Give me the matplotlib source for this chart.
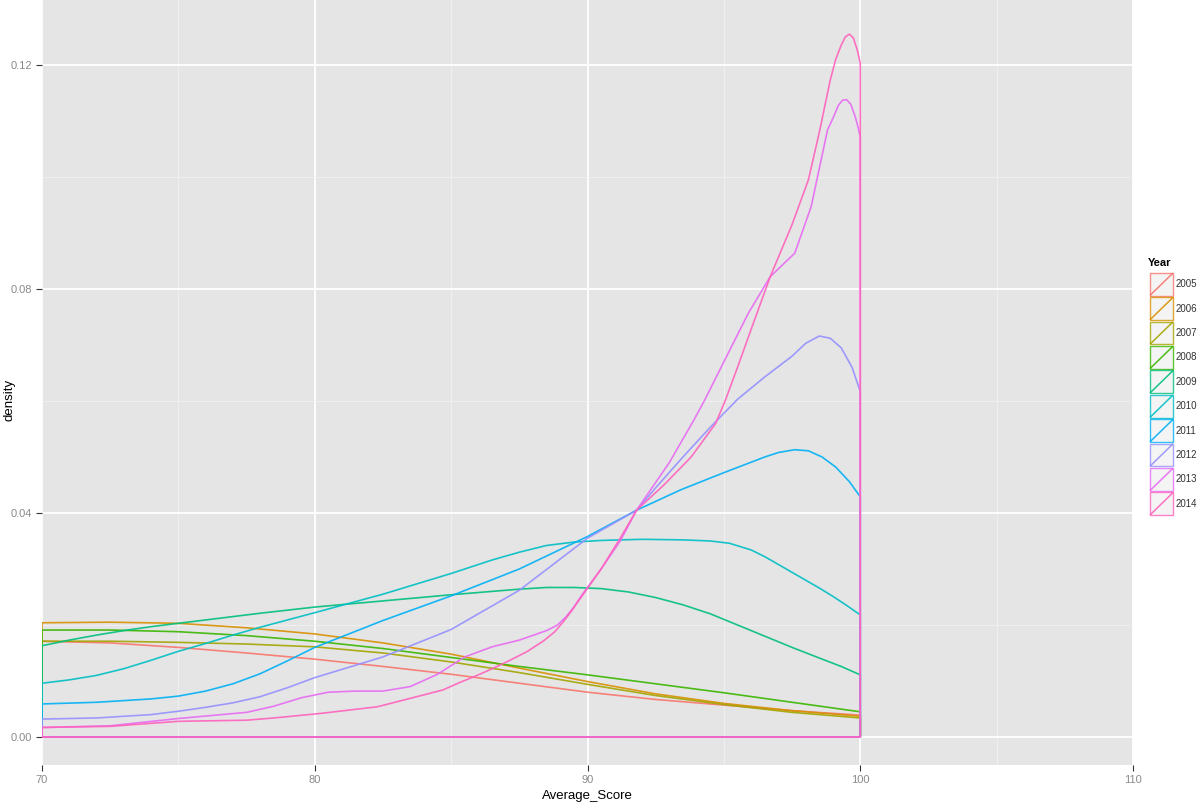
import matplotlib
matplotlib.use("Agg")
import matplotlib.pyplot as plt
from matplotlib.patches import Rectangle

plt.rcParams['font.family'] = ['Liberation Sans', 'DejaVu Sans']

years = ['2005', '2006', '2007', '2008', '2009', '2010', '2011', '2012', '2013', '2014']
colors = ['#F8766D', '#D89000', '#A3A500', '#39B600', '#00BF7D',
          '#00BFC4', '#00B0F6', '#9590FF', '#E76BF3', '#FF62BC']

# densities, one pair of lists per year
x_2005 = [70, 72.5, 75, 77.5, 80, 82.5, 85, 87.5, 90, 92.5, 95, 97.5, 100]
d_2005 = [0.0171, 0.0168, 0.0160, 0.0150, 0.0139, 0.0126, 0.0112, 0.0096, 0.0080, 0.0067, 0.0057, 0.0047, 0.0039]

x_2006 = [70, 72.5, 75, 77.5, 80, 82.5, 85, 87.5, 90, 92.5, 95, 97.5, 100]
d_2006 = [0.0204, 0.0205, 0.0203, 0.0195, 0.0184, 0.0168, 0.0148, 0.0123, 0.0099, 0.0077, 0.0060, 0.0047, 0.0037]

x_2007 = [70, 72.5, 75, 77.5, 80, 82.5, 85, 87.5, 90, 92.5, 95, 97.5, 100]
d_2007 = [0.0171, 0.0171, 0.0169, 0.0166, 0.0161, 0.0150, 0.0134, 0.0115, 0.0094, 0.0074, 0.0058, 0.0044, 0.0034]

x_2008 = [70, 72.5, 75, 77.5, 80, 82.5, 85, 87.5, 90, 92.5, 95, 97.5, 100]
d_2008 = [0.0191, 0.0191, 0.0188, 0.0181, 0.0171, 0.0158, 0.0142, 0.0126, 0.0111, 0.0095, 0.0079, 0.0062, 0.0045]

x_2009 = [70, 71, 72, 73, 74, 75, 76.5, 78, 80, 82.5, 85, 86.5, 87.5, 88.5, 89.5, 90.5, 91.5, 92.5,
          93.5, 94.5, 95.5, 96.5, 97.5, 98.5, 99.3, 100]
d_2009 = [0.0163, 0.0173, 0.0182, 0.0190, 0.0197, 0.0203, 0.0212, 0.0221, 0.0232, 0.0243, 0.0254, 0.0260,
          0.0264, 0.0267, 0.0267, 0.0265, 0.0259, 0.0249, 0.0236, 0.0220, 0.0200, 0.0180, 0.0160, 0.0141, 0.0126, 0.0111]

x_2010 = [70, 71, 72, 73, 74, 75, 76, 77, 78, 79, 80, 82.5, 85, 86.5, 87.5, 88.5, 89.5, 90.5, 92, 93.5,
          94.5, 95.2, 96, 96.5, 97, 97.5, 98, 98.5, 99, 99.5, 100]
d_2010 = [0.0096, 0.0102, 0.0110, 0.0122, 0.0137, 0.0153, 0.0167, 0.0182, 0.0196, 0.0209, 0.0222, 0.0255,
          0.0292, 0.0316, 0.0330, 0.0342, 0.0348, 0.0351, 0.0353, 0.0352, 0.0350, 0.0346, 0.0334, 0.0322,
          0.0308, 0.0294, 0.0280, 0.0266, 0.0251, 0.0235, 0.0218]

x_2011 = [70, 72, 74, 75, 76, 77, 78, 79, 80, 82.5, 85, 87.5, 90, 91.8, 93.4, 95, 96.5, 97, 97.6, 98.1,
          98.6, 99.1, 99.6, 100]
d_2011 = [0.0059, 0.0062, 0.0068, 0.0073, 0.0082, 0.0095, 0.0113, 0.0136, 0.0160, 0.0208, 0.0252, 0.0300,
          0.0358, 0.0405, 0.0441, 0.0472, 0.0500, 0.0508, 0.0513, 0.0511, 0.0500, 0.0482, 0.0456, 0.0429]

x_2012 = [70, 72, 74, 75, 76, 77, 78, 79, 80, 82.5, 85, 87.5, 90, 91.8, 92.5, 93.5, 94.5, 95.5, 96.5,
          97.5, 98, 98.5, 98.9, 99.3, 99.7, 100]
d_2012 = [0.0032, 0.0034, 0.0040, 0.0046, 0.0053, 0.0061, 0.0072, 0.0088, 0.0106, 0.0143, 0.0192, 0.0262,
          0.0355, 0.0405, 0.0445, 0.0500, 0.0553, 0.0603, 0.0643, 0.0680, 0.0703, 0.0716, 0.0712, 0.0695,
          0.0660, 0.0617]

x_2013 = [70, 72.5, 75, 77.5, 78.5, 79.5, 80.5, 81.5, 82.5, 83.5, 84.5, 85.5, 86.5, 87.5, 88.5, 88.9, 89.2,
          89.5, 89.8, 90.5, 91.2, 91.8, 93, 93.9, 94.3, 95, 95.9, 96.7, 97.6, 98.2, 98.8, 99.0, 99.2, 99.35,
          99.5, 99.65, 99.8, 99.9, 100]
d_2013 = [0.0017, 0.0020, 0.0033, 0.0044, 0.0055, 0.0070, 0.0080, 0.0082, 0.0082, 0.0090, 0.0112, 0.0143,
          0.0161, 0.0173, 0.0190, 0.0200, 0.0214, 0.0232, 0.0254, 0.0300, 0.0350, 0.0405, 0.0490, 0.0566,
          0.0602, 0.0670, 0.0757, 0.0822, 0.0864, 0.0947, 0.1084, 0.1105, 0.1128, 0.1137, 0.1138, 0.1130,
          0.1110, 0.1093, 0.1072]

x_2014 = [70, 72.5, 75, 77.5, 78.5, 80.2, 82.3, 84.7, 85.3, 86, 86.6, 87.2, 87.8, 88.4, 88.8, 89.1, 89.4,
          89.7, 90.5, 91.2, 91.8, 92.8, 93.8, 94.7, 95.06, 95.5, 96, 96.7, 97.5, 98.1, 98.5, 98.9, 99.1, 99.3,
          99.45, 99.6, 99.75, 99.9, 100]
d_2014 = [0.0017, 0.0019, 0.0028, 0.0030, 0.0034, 0.0042, 0.0054, 0.0084, 0.0097, 0.0111, 0.0124, 0.0138,
          0.0153, 0.0172, 0.0188, 0.0205, 0.0224, 0.0245, 0.0300, 0.0355, 0.0405, 0.0450, 0.0500, 0.0560,
          0.0602, 0.0660, 0.0728, 0.0822, 0.0915, 0.0995, 0.1080, 0.1173, 0.1210, 0.1235, 0.1250, 0.1255,
          0.1248, 0.1225, 0.1203]

xs = [x_2005, x_2006, x_2007, x_2008, x_2009, x_2010, x_2011, x_2012, x_2013, x_2014]
ds = [d_2005, d_2006, d_2007, d_2008, d_2009, d_2010, d_2011, d_2012, d_2013, d_2014]

W, H = 1199, 806
fig = plt.figure(figsize=(W / 100, H / 100), dpi=100)
ax = fig.add_axes([42 / W, (H - 765) / H, (1133 - 42) / W, 765 / H])
ax.set_facecolor('#E5E5E5')
for s in ax.spines.values():
    s.set_visible(False)

ax.set_xlim(70, 110)
ax.set_ylim(-0.005, 0.1316)
ax.set_xticks([70, 80, 90, 100, 110])
ax.set_yticks([0.0, 0.04, 0.08, 0.12])
ax.set_yticklabels(['0.00', '0.04', '0.08', '0.12'])
ax.set_xticks([75, 85, 95, 105], minor=True)
ax.set_yticks([0.02, 0.06, 0.10], minor=True)
ax.grid(which='major', color='white', linewidth=1.3)
ax.grid(which='minor', color='#F2F2F2', linewidth=0.6)
ax.set_axisbelow(True)
ax.tick_params(which='major', length=4, width=0.8, color='#333333',
               labelcolor='#8A8A8A', labelsize=8, pad=3)
ax.tick_params(which='minor', length=0)

for x, d, c in zip(xs, ds, colors):
    px = [70] + x + [100, 70]
    py = [0] + d + [0, 0]
    ax.plot(px, py, color=c, linewidth=1.2, alpha=0.9, solid_joinstyle='round')

ax.set_xlabel('Average_Score', fontsize=9.5, labelpad=4)
fig.text(10 / W, 1 - 400 / H, 'density', rotation=90, fontsize=9.5,
         ha='center', va='center')

# legend drawn in pixel coordinates
lg = fig.add_axes([0, 0, 1, 1])
lg.set_xlim(0, W)
lg.set_ylim(H, 0)
lg.axis('off')
lg.text(1148, 263, 'Year', fontsize=8, fontweight='bold', va='center', ha='left')
top = 272
kh = 24.4
for i, (yr, c) in enumerate(zip(years, colors)):
    y0 = top + i * kh
    lg.add_patch(Rectangle((1150, y0 + 0.8), 23, kh - 1.6, facecolor='#F2F2F2',
                           edgecolor=c, linewidth=1.0, alpha=0.8))
    lg.plot([1150.5, 1172.5], [y0 + kh - 1.5, y0 + 1.5], color=c, linewidth=1.1, alpha=0.9)
    lg.text(1176, y0 + kh / 2, yr, fontsize=7, va='center', ha='left', color='#333333')

fig.savefig('out.png', dpi=100)
